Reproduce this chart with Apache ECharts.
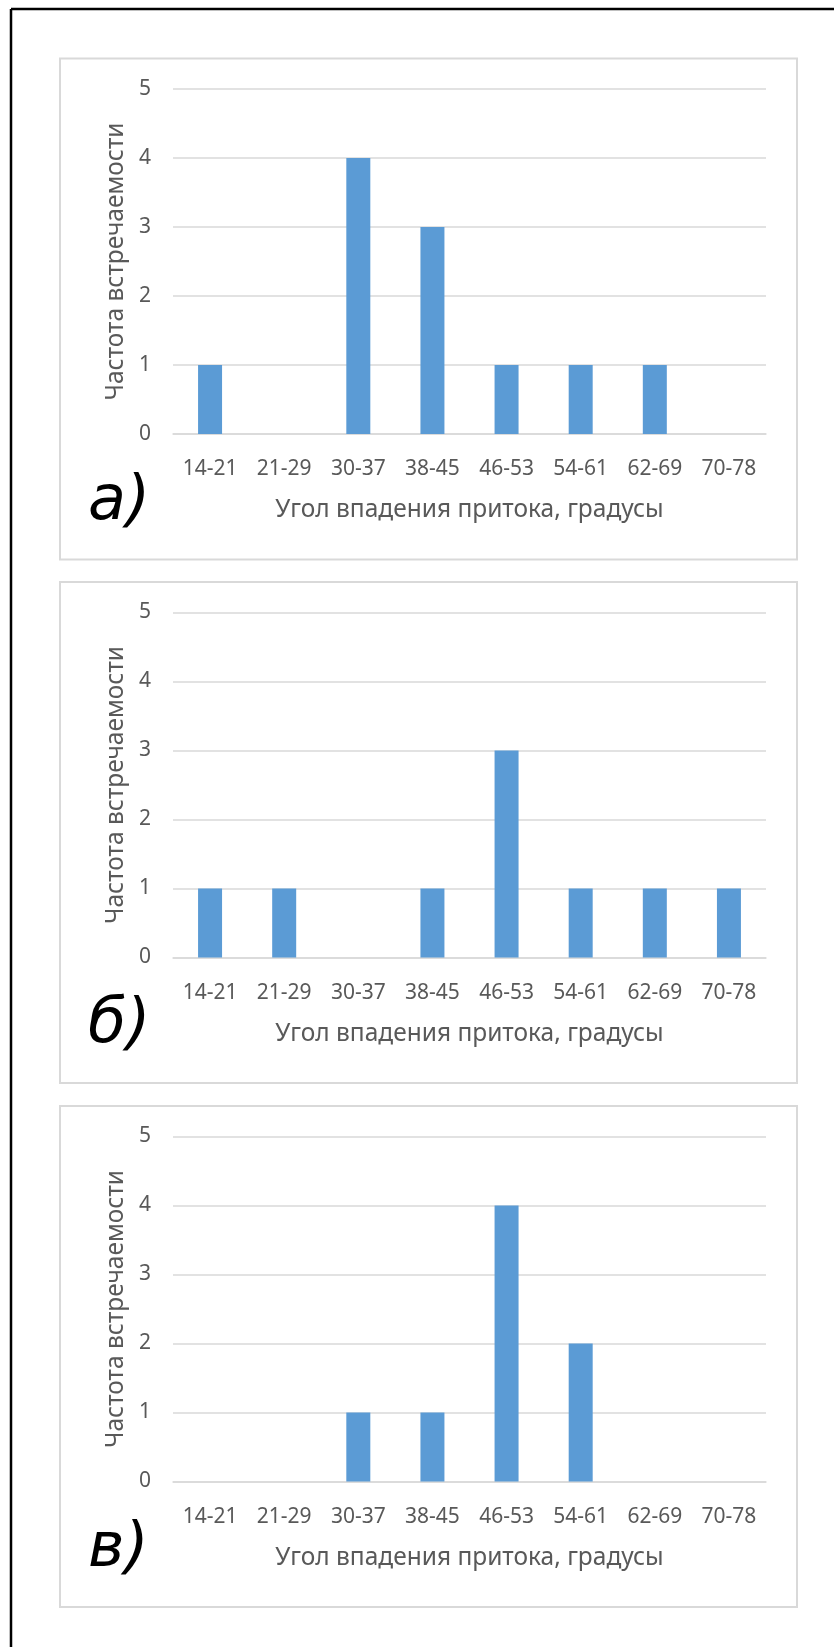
<!DOCTYPE html>
<html>
<head>
<meta charset="utf-8">
<script src="https://cdn.jsdelivr.net/npm/echarts@6/dist/echarts.min.js"></script>
<style>
	html, body {
		margin: 0;
		padding: 0;
		background: #fff;
	}
	#main {
		width: 834px;
		height: 1647px;
	}
</style>
</head>
<body>
<div id="main"></div>
<script>
	// интервалы углов впадения притока
	const categories = ['14-21', '21-29', '30-37', '38-45', '46-53', '54-61', '62-69', '70-78']
	// частота встречаемости для трёх выборок
	const seriesA = [1, 0, 4, 3, 1, 1, 1, 0]
	const seriesB = [1, 1, 0, 1, 3, 1, 1, 1]
	const seriesC = [0, 0, 1, 1, 4, 2, 0, 0]
	const panelLabels = ['а)', 'б)', 'в)']
	const yTicks = [0, 1, 2, 3, 4, 5]

	const xName = 'Угол впадения притока, градусы'
	const yName = 'Частота встречаемости'

	const font = '"Noto Sans", "Open Sans", sans-serif'
	const textColor = '#595959'
	const lineColor = '#d9d9d9'

	const panelTops = [58.5, 582, 1106]
	const gridOffset = 30.5
	const gridHeight = 345

	let grid = []
	let xAxis = []
	let yAxis = []
	let series = []
	let title = []
	let graphic = []

	const allData = [seriesA, seriesB, seriesC]

	allData.forEach((data, i) => {
		let top = panelTops[i]
		grid.push({
			left: 173,
			right: 68,
			top: top + gridOffset,
			height: gridHeight
		})
		xAxis.push({
			type: 'category',
			gridIndex: i,
			data: categories,
			axisLine: {
				show: true,
				lineStyle: {
					color: lineColor,
					width: 1.5
				}
			},
			axisTick: {
				show: false
			},
			axisLabel: {
				color: textColor,
				fontFamily: font,
				fontSize: 21,
				margin: 25,
				interval: 0
			},
			name: xName,
			nameLocation: 'middle',
			nameGap: 64,
			nameTextStyle: {
				color: textColor,
				fontFamily: font,
				fontSize: 24.5
			}
		})
		yAxis.push({
			type: 'value',
			gridIndex: i,
			min: yTicks[0],
			max: yTicks[yTicks.length - 1],
			interval: 1,
			axisLine: {
				show: false
			},
			axisTick: {
				show: false
			},
			splitLine: {
				lineStyle: {
					color: lineColor,
					width: 1.5
				}
			},
			axisLabel: {
				color: textColor,
				fontFamily: font,
				fontSize: 21,
				margin: 22
			},
			name: yName,
			nameLocation: 'middle',
			nameGap: 44,
			nameTextStyle: {
				color: textColor,
				fontFamily: font,
				fontSize: 24.5
			}
		})
		series.push({
			type: 'bar',
			xAxisIndex: i,
			yAxisIndex: i,
			data: data,
			barWidth: 24,
			itemStyle: {
				color: '#5b9bd5'
			}
		})
		title.push({
			text: panelLabels[i],
			left: 88,
			top: top + 413,
			padding: 0,
			textStyle: {
				color: '#000',
				fontFamily: '"DejaVu Sans", sans-serif',
				fontStyle: 'italic',
				fontWeight: 'normal',
				fontSize: 62
			}
		})
		graphic.push({
			type: 'rect',
			z: -10,
			silent: true,
			shape: {
				x: 60,
				y: top,
				width: 737,
				height: 501
			},
			style: {
				fill: '#fff',
				stroke: lineColor,
				lineWidth: 2
			}
		})
	})

	// чёрная рамка рисунка (видны только левая и верхняя стороны)
	graphic.push({
		type: 'line',
		silent: true,
		shape: {x1: 11, y1: 9, x2: 834, y2: 9},
		style: {stroke: '#000', lineWidth: 2.5}
	})
	graphic.push({
		type: 'line',
		silent: true,
		shape: {x1: 11, y1: 9, x2: 11, y2: 1647},
		style: {stroke: '#000', lineWidth: 2.5}
	})

	let option = {
		animation: false,
		backgroundColor: '#fff',
		title: title,
		grid: grid,
		xAxis: xAxis,
		yAxis: yAxis,
		series: series,
		graphic: graphic
	}

	let chart = echarts.init(document.getElementById('main'))
	chart.setOption(option)
</script>
</body>
</html>
